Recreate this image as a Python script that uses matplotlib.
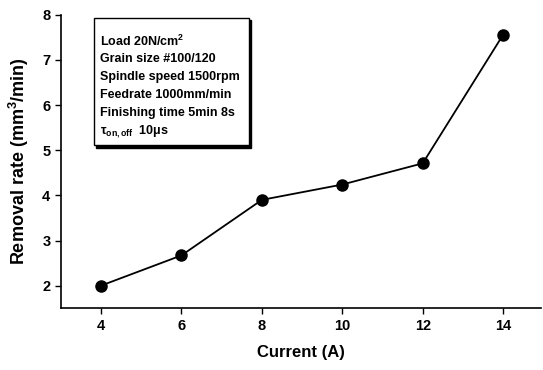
import matplotlib
matplotlib.use('Agg')
import matplotlib.pyplot as plt
from matplotlib.patches import Rectangle

current = [4, 6, 8, 10, 12, 14]
removal_rate = [2.0, 2.67, 3.9, 4.24, 4.71, 7.56]
x_ticks = [4, 6, 8, 10, 12, 14]
y_ticks = [2, 3, 4, 5, 6, 7, 8]
conditions = [
    r"Load 20N/cm$^{\mathbf{2}}$",
    "Grain size #100/120",
    "Spindle speed 1500rpm",
    "Feedrate 1000mm/min",
    "Finishing time 5min 8s",
    r"$\mathbf{\tau}_{\mathbf{on,off}}$  10$\mathbf{\mu}$s",
]

plt.rcParams['font.family'] = 'Liberation Sans'
plt.rcParams['font.weight'] = 'bold'
plt.rcParams['mathtext.fontset'] = 'custom'
plt.rcParams['mathtext.rm'] = 'Liberation Sans:bold'
plt.rcParams['mathtext.bf'] = 'Liberation Sans:bold'
plt.rcParams['mathtext.it'] = 'Liberation Sans:bold'

fig = plt.figure(figsize=(5.43, 3.7), dpi=100)
ax = fig.add_axes([0.112, 0.167, 0.885, 0.793])

ax.plot(current, removal_rate, color='black', linewidth=1.3,
        marker='o', markersize=8, markerfacecolor='black')

ax.set_xlim(3.0, 14.95)
ax.set_ylim(1.5, 8)
ax.set_xticks(x_ticks)
ax.set_yticks(y_ticks)
ax.tick_params(axis='both', labelsize=10.5, direction='out', length=4, width=1)
for lbl in ax.get_xticklabels() + ax.get_yticklabels():
    lbl.set_fontweight('bold')
ax.spines['top'].set_visible(False)
ax.spines['right'].set_visible(False)
ax.spines['left'].set_linewidth(1.2)
ax.spines['bottom'].set_linewidth(1.2)

ax.set_xlabel("Current (A)", fontsize=12, fontweight='bold', labelpad=9)
ax.set_ylabel(r"Removal rate (mm$^{\mathbf{3}}$/min)", fontsize=13, fontweight='bold', labelpad=8)

# condition box with drop shadow
ax.add_patch(Rectangle((3.88, 5.06), 3.86, 2.82, facecolor='black', edgecolor='black', zorder=3))
ax.add_patch(Rectangle((3.82, 5.11), 3.86, 2.82, facecolor='white', edgecolor='black',
                       linewidth=1, zorder=4))
y = 7.42
for line in conditions:
    ax.text(3.98, y, line, fontsize=9, fontweight='bold', va='center', ha='left', zorder=5)
    y -= 0.4

fig.savefig('out.png', dpi=100)
